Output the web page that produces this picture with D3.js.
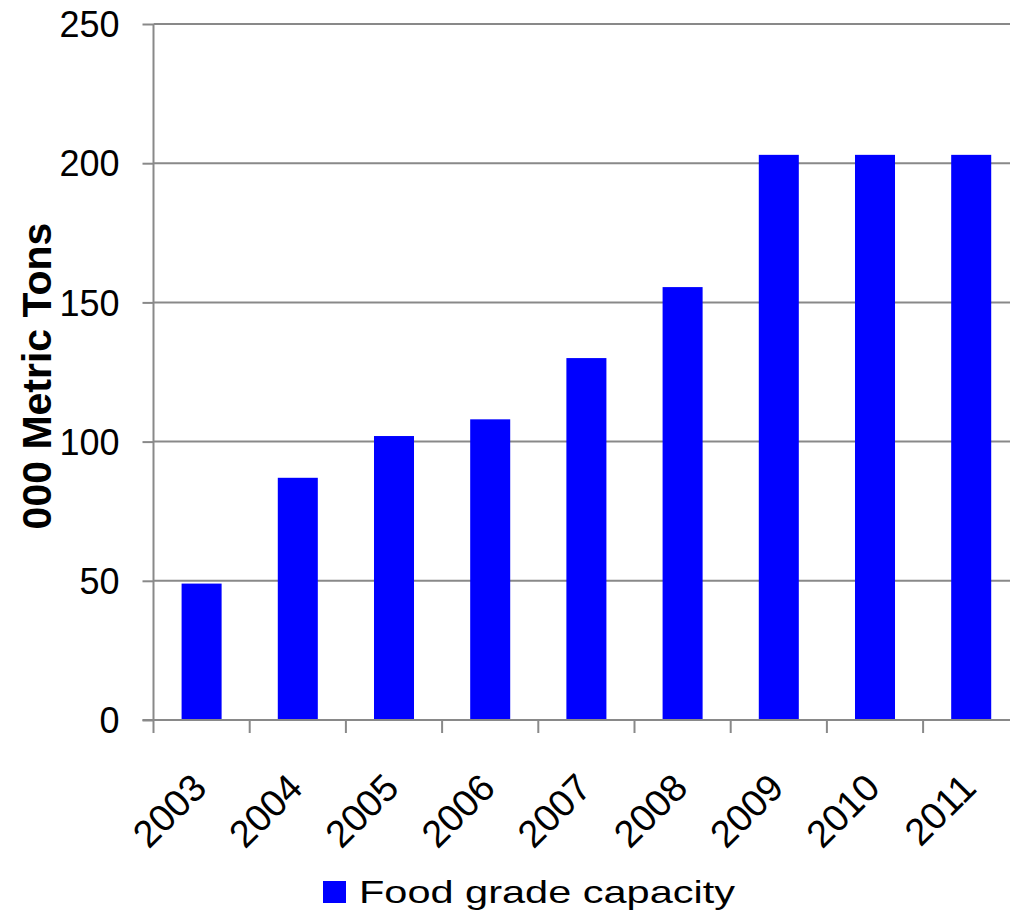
<!DOCTYPE html>
<html>
<head>
<meta charset="utf-8">
<script src="https://cdn.jsdelivr.net/npm/d3@7"></script>
<style>
  html, body { margin: 0; padding: 0; background: #fff; }
  svg { display: block; }
  text { font-family: "Liberation Sans", Arial, sans-serif; fill: #000; }
</style>
</head>
<body>
<svg id="chart" width="1010" height="917"></svg>
<script>
// Food grade capacity by year, thousand metric tons
const years = ["2003", "2004", "2005", "2006", "2007", "2008", "2009", "2010", "2011"];
const capacity = [49, 87, 102, 108, 130, 155.5, 203, 203, 203];
const yTicks = [0, 50, 100, 150, 200, 250];
const seriesName = "Food grade capacity";
const yTitle = "000 Metric Tons";

const data = years.map((yr, i) => ({ year: yr, value: capacity[i] }));

const svg = d3.select("#chart");
const W = 1010, H = 917;
const plot = { left: 153.5, right: 1019.3, top: 24, bottom: 720 };

const gridColor = "#898989";
const barColor = "#0000ff";

const x = d3.scaleBand()
  .domain(years)
  .range([plot.left, plot.right])
  .paddingInner(0.584)
  .paddingOuter(0.292);

const xEdges = d3.scaleBand().domain(years).range([plot.left, plot.right]).padding(0);

const y = d3.scaleLinear().domain([0, 250]).range([plot.bottom, plot.top]);

svg.append("rect").attr("width", W).attr("height", H).attr("fill", "#fff");

// horizontal gridlines
svg.append("g")
  .selectAll("line")
  .data(yTicks.filter(d => d > 0))
  .join("line")
  .attr("x1", plot.left)
  .attr("x2", W)
  .attr("y1", d => y(d))
  .attr("y2", d => y(d))
  .attr("stroke", gridColor)
  .attr("stroke-width", 2);

// y axis with tick labels
const yAxis = svg.append("g")
  .attr("transform", `translate(${plot.left},0)`)
  .call(d3.axisLeft(y).tickValues(yTicks).tickSize(11).tickPadding(23).tickFormat(d3.format("d")));
yAxis.select(".domain").remove();
yAxis.selectAll(".tick line").attr("stroke", gridColor).attr("stroke-width", 2);
yAxis.selectAll(".tick text")
  .style("font-size", "36px")
  .style("font-family", "'Liberation Sans', Arial, sans-serif")
  .attr("fill", "#000")
  .attr("dy", "0.35em");

// vertical axis line
svg.append("line")
  .attr("x1", plot.left).attr("x2", plot.left)
  .attr("y1", plot.top).attr("y2", plot.bottom)
  .attr("stroke", gridColor).attr("stroke-width", 2);

// bars
svg.append("g")
  .selectAll("rect")
  .data(data)
  .join("rect")
  .attr("x", d => x(d.year))
  .attr("width", x.bandwidth())
  .attr("y", d => y(d.value))
  .attr("height", d => y(0) - y(d.value))
  .attr("fill", barColor);

// x axis baseline and category boundary ticks
svg.append("line")
  .attr("x1", plot.left - 11).attr("x2", W)
  .attr("y1", y(0)).attr("y2", y(0))
  .attr("stroke", gridColor).attr("stroke-width", 2);

const edges = years.map(d => xEdges(d)).concat([xEdges(years[years.length - 1]) + xEdges.step()]);
svg.append("g")
  .selectAll("line")
  .data(edges)
  .join("line")
  .attr("x1", d => d).attr("x2", d => d)
  .attr("y1", y(0)).attr("y2", y(0) + 13)
  .attr("stroke", gridColor).attr("stroke-width", 2);

// rotated year labels
svg.append("g")
  .selectAll("text")
  .data(years)
  .join("text")
  .attr("transform", d => `translate(${xEdges(d) + xEdges.bandwidth() / 2 + 7},${y(0) + 70}) rotate(-45)`)
  .attr("text-anchor", "end")
  .style("font-size", "38px")
  .text(d => d);

// y axis title
svg.append("text")
  .attr("transform", `translate(51,${376}) rotate(-90)`)
  .attr("text-anchor", "middle")
  .style("font-size", "41px")
  .style("font-weight", "bold")
  .text(yTitle);

// legend
const legend = svg.append("g");
legend.append("rect")
  .attr("x", 323).attr("y", 881)
  .attr("width", 23).attr("height", 22)
  .attr("fill", barColor);
legend.append("text")
  .attr("x", 359).attr("y", 903)
  .style("font-size", "32px")
  .attr("textLength", 376)
  .attr("lengthAdjust", "spacingAndGlyphs")
  .text(seriesName);
</script>
</body>
</html>
